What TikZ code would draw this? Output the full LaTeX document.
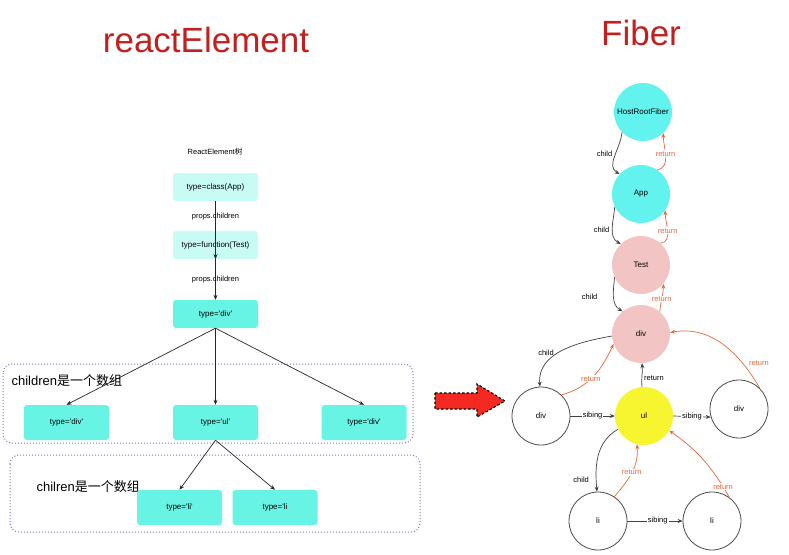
\documentclass[tikz,border=0pt]{standalone}
\usepackage{fontspec}
\setmainfont{Liberation Sans}
\newfontfamily\cjk{Noto Sans CJK SC}
\usetikzlibrary{arrows.meta}

\definecolor{titlered}{HTML}{C2201F}
\definecolor{paleaqua}{HTML}{C9FBF5}
\definecolor{aqua}{HTML}{67F4E4}
\definecolor{fibaqua}{HTML}{62F3EE}
\definecolor{fibpink}{HTML}{F3C4C4}
\definecolor{fibyellow}{HTML}{F7F530}
\definecolor{retorange}{HTML}{E5683A}
\definecolor{groupline}{HTML}{7D7BB3}
\definecolor{arrowred}{HTML}{F42A22}

\newcommand{\tq}{\textquotesingle}

\begin{document}
\begin{tikzpicture}[x=1pt, y=1pt,
    title/.style={font=\fontsize{35}{40}\selectfont, text=titlered},
    elem/.style={rounded corners=3pt, minimum width=85pt, minimum height=28pt,
                 inner sep=0pt, font=\fontsize{8}{9}\selectfont},
    lbl/.style={font=\fontsize{7.5}{8}\selectfont, inner sep=1pt},
    group/.style={draw=groupline, dotted, line width=1pt, rounded corners=9pt},
    tree/.style={draw=black!85, line width=0.7pt, -{Stealth[length=5pt, width=4pt]}},
    fib/.style={circle, minimum size=58pt, inner sep=0pt, font=\fontsize{8}{9}\selectfont},
    plain/.style={fib, draw=black!70, line width=0.8pt, fill=white},
    kid/.style={draw=black!75, line width=0.7pt, -{Stealth[length=5pt, width=4pt]}},
    ret/.style={draw=retorange, line width=0.7pt, -{Stealth[length=5pt, width=4pt]}},
    retlbl/.style={lbl, text=retorange, fill=white}]

    \useasboundingbox (0, 0) rectangle (789, -554);

    \node[title] (lefttitle)  at (206, -40) {reactElement};
    \node[title] (righttitle) at (641, -33) {Fiber};

    \node[lbl] (treename) at (215, -152) {ReactElement{\cjk 树}};

    \node[elem, fill=paleaqua] (classapp) at (215.5, -187) {type=class(App)};
    \node[elem, fill=paleaqua] (functest) at (215.5, -245) {type=function(Test)};
    \node[elem, fill=aqua]     (rootdiv)  at (215.5, -314) {type=\tq div\tq};

    \draw[group] (3, -364) rectangle (413, -443);
    \draw[group] (10, -455) rectangle (420, -532);
    \node[anchor=west, font=\fontsize{13}{15}\selectfont] (grouponelbl) at (8, -381) {children{\cjk 是一个数组}};
    \node[anchor=west, font=\fontsize{13}{15}\selectfont] (grouptwolbl) at (33, -487) {chilren{\cjk 是一个数组}};

    \node[elem, fill=aqua, minimum height=35pt] (leftdiv)  at (66.5, -422.5) {type=\tq div\tq};
    \node[elem, fill=aqua, minimum height=35pt] (midul)    at (215.5, -422.5) {type=\tq ul\tq};
    \node[elem, fill=aqua, minimum height=35pt] (rightdiv) at (364, -422.5) {type=\tq div\tq};
    \node[elem, fill=aqua, minimum height=35pt] (lione)    at (179.5, -507.5) {type=\tq li\tq};
    \node[elem, fill=aqua, minimum height=35pt] (litwo)    at (275, -507.5) {type=\tq li};

    \draw[tree] (classapp.south) -- (functest.south) node[lbl, pos=0.26]{props.children};
    \draw[tree] (functest.south) -- (rootdiv.north) node[lbl, pos=0.49]{props.children};
    \draw[tree] (rootdiv.south) -- (leftdiv.north);
    \draw[tree] (rootdiv.south) -- (midul.north);
    \draw[tree] (rootdiv.south) -- (rightdiv.north);
    \draw[tree] (midul.south) -- (lione.north);
    \draw[tree] (midul.south) -- (litwo.north);

    \draw[fill=arrowred, draw=black, line width=1.1pt, dash pattern=on 2.5pt off 2pt]
      (435, -393) -- (477, -393) -- (477, -384) -- (505, -401) -- (477, -417)
      -- (477, -409) -- (435, -409) -- cycle;

    \node[fib, fill=fibaqua] (hostroot) at (643, -112) {HostRootFiber};
    \node[fib, fill=fibaqua] (fibapp)   at (641, -194) {App};
    \node[fib, fill=fibpink] (fibtest)  at (641, -265) {Test};
    \node[fib, fill=fibpink] (fibdiv)   at (641, -334) {div};
    \node[plain]             (fibdivl)  at (541, -416) {div};
    \node[fib, fill=fibyellow] (fibul)  at (644, -416) {ul};
    \node[plain]             (fibdivr)  at (739, -409) {div};
    \node[plain]             (fiblil)   at (598, -521) {li};
    \node[plain]             (fiblir)   at (712, -521) {li};

    \draw[kid] (hostroot.224) to[out=-95, in=150] node[lbl, pos=0.45, left=2pt]{child} (fibapp.137);
    \draw[ret] (fibapp.56) to[out=10, in=-90] node[retlbl, pos=0.55]{return} (hostroot.314);
    \draw[kid] (fibapp.206) to[out=-95, in=150] node[lbl, pos=0.55, left=2pt]{child} (fibtest.134);
    \draw[ret] (fibtest.48) to[out=10, in=-90] node[retlbl, pos=0.5]{return} (fibapp.326);
    \draw[kid] (fibtest.205) to[out=-95, in=150] node[lbl, pos=0.5, left=15pt]{child} (fibdiv.129);
    \draw[ret] (fibdiv.50) to[out=85, in=-90] node[retlbl, pos=0.45]{return} (fibtest.320);

    \draw[kid] (fibdiv.184) to[out=190, in=95] node[lbl, pos=0.55, left=3pt]{child} (fibdivl.92);
    \draw[ret] (fibdivl.46) to[out=15, in=-115] node[retlbl, pos=0.45]{return} (fibdiv.200);
    \draw[kid] (fibul.94) to[out=95, in=-85] node[lbl, pos=0.35, right=1pt]{return} (fibdiv.272);
    \draw[ret] (fibdivr.45) to[out=120, in=10] node[lbl, text=retorange, pos=0.25, right=5pt]{return} (fibdiv.3);
    \draw[kid] (fibdivl.east) -- (fibul.west) node[lbl, midway, fill=white]{sibing};
    \draw[kid] (fibul.east) -- (fibdivr.196) node[lbl, midway, fill=white]{sibing};

    \draw[kid] (fibul.207) to[out=210, in=95] node[lbl, pos=0.85, left=6pt]{child} (fiblil.92);
    \draw[ret] (fiblil.56) to[out=50, in=-85] node[retlbl, pos=0.5]{return} (fibul.256);
    \draw[ret] (fiblir.54) to[out=120, in=-35] node[retlbl, pos=0.12]{return} (fibul.330);
    \draw[kid] (fiblil.east) -- (fiblir.west) node[lbl, pos=0.55, fill=white]{sibing};
\end{tikzpicture}
\end{document}
